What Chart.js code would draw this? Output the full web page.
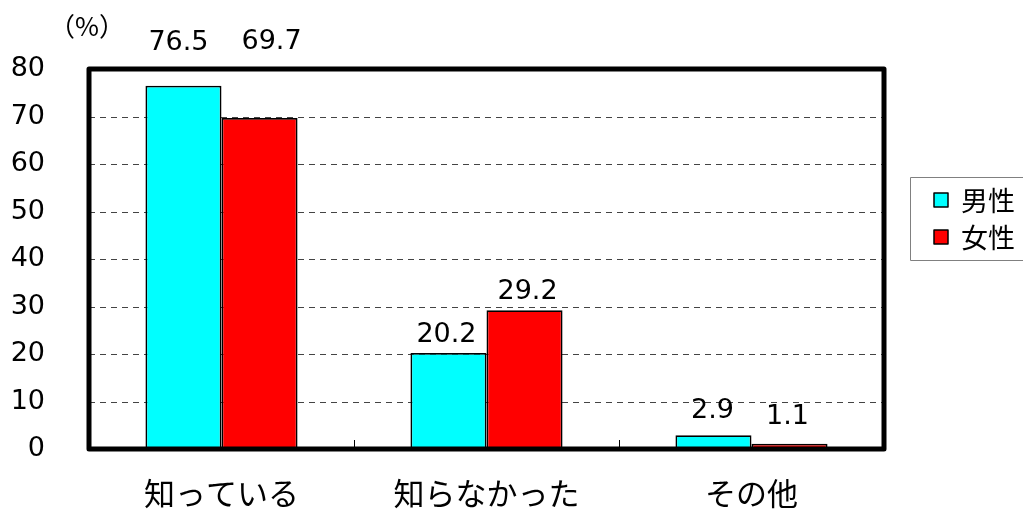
<!DOCTYPE html>
<html>
<head>
<meta charset="utf-8">
<script src="https://cdn.jsdelivr.net/npm/chart.js@4"></script>
<style>
  html, body { margin: 0; padding: 0; background: #fff; }
  #wrap { width: 1023px; height: 510px; }
</style>
</head>
<body>
<div id="wrap"><canvas id="myChart" width="1023" height="510"></canvas></div>
<script>
const categorias = ['知っている', '知らなかった', 'その他'];
const hombres = [76.5, 20.2, 2.9];
const mujeres = [69.7, 29.2, 1.1];
const ticksY = [0, 10, 20, 30, 40, 50, 60, 70, 80];

const numFont = '"DejaVu Sans", sans-serif';
const jpFont = '"Noto Sans CJK JP", sans-serif';

// marco grueso, rayas de la cuadricula, marcas del eje x, etiquetas y leyenda
const extras = {
  id: 'extras',
  beforeDatasetsDraw(chart) {
    const { ctx, chartArea: a, scales: { y } } = chart;
    ctx.save();
    ctx.strokeStyle = '#444';
    ctx.lineWidth = 1;
    ctx.setLineDash([6, 5]);
    ticksY.forEach(v => {
      if (v === 0 || v === 80) return;
      const py = Math.round(y.getPixelForValue(v)) + 0.5;
      ctx.beginPath();
      ctx.moveTo(a.left, py);
      ctx.lineTo(a.right, py);
      ctx.stroke();
    });
    ctx.setLineDash([]);
    ctx.strokeStyle = '#000';
    const paso = (a.right - a.left) / categorias.length;
    for (let i = 1; i < categorias.length; i++) {
      const px = Math.round(a.left + paso * i) + 0.5;
      ctx.beginPath();
      ctx.moveTo(px, a.bottom);
      ctx.lineTo(px, a.bottom - 9);
      ctx.stroke();
    }
    ctx.restore();
  },
  afterDatasetsDraw(chart) {
    const { ctx, chartArea: a } = chart;
    ctx.save();
    ctx.strokeStyle = '#000';
    ctx.lineWidth = 5;
    ctx.lineJoin = 'round';
    ctx.strokeRect(a.left, a.top, a.right - a.left, a.bottom - a.top);

    // etiquetas de valor
    const ajuste = [
      [[-5, -43], [-2, -18], [-1, -24]],
      [[12, -76], [3, -18], [-2, -27]]
    ];
    ctx.fillStyle = '#000';
    ctx.font = '27px ' + numFont;
    ctx.textAlign = 'center';
    ctx.textBaseline = 'middle';
    chart.data.datasets.forEach((ds, d) => {
      chart.getDatasetMeta(d).data.forEach((bar, i) => {
        const [dx, dy] = ajuste[d][i];
        ctx.fillText(ds.data[i].toFixed(1), bar.x + dx, bar.y + dy);
      });
    });

    // (%)
    ctx.font = '26px ' + jpFont;
    ctx.fillText('（%）', 87, 26);

    // leyenda
    ctx.strokeStyle = '#808080';
    ctx.lineWidth = 1;
    ctx.strokeRect(910.5, 177.5, 130, 83);
    chart.data.datasets.forEach((ds, d) => {
      const cy = 200 + d * 37;
      ctx.fillStyle = ds.backgroundColor;
      ctx.fillRect(934, cy - 7, 14, 14);
      ctx.strokeStyle = '#000';
      ctx.lineWidth = 1.5;
      ctx.strokeRect(934, cy - 7, 14, 14);
      ctx.fillStyle = '#000';
      ctx.textAlign = 'left';
      ctx.font = '27px ' + jpFont;
      ctx.fillText(ds.label, 961, cy + 1);
    });
    ctx.restore();
  }
};

const data = {
  labels: categorias,
  datasets: [{
    label: '男性',
    data: hombres,
    backgroundColor: '#00FFFF',
    borderColor: '#000',
    borderWidth: 1.8,
    categoryPercentage: 0.574,
    barPercentage: 1
  }, {
    label: '女性',
    data: mujeres,
    backgroundColor: '#FF0000',
    borderColor: '#000',
    borderWidth: 1.8,
    categoryPercentage: 0.574,
    barPercentage: 1
  }]
};

const myChart = new Chart('myChart', {
  type: 'bar',
  data: data,
  plugins: [extras],
  options: {
    responsive: false,
    animation: false,
    layout: { padding: { top: 69, right: 139, left: 0, bottom: 0 } },
    plugins: {
      legend: { display: false },
      tooltip: { enabled: false }
    },
    scales: {
      x: {
        grid: { display: false, drawTicks: false },
        border: { display: false },
        ticks: {
          color: '#000',
          padding: 26,
          font: { family: jpFont, size: 31 }
        },
        afterFit(scale) { scale.height = 61; }
      },
      y: {
        min: 0,
        max: 80,
        grid: { display: false, drawTicks: false },
        border: { display: false },
        ticks: {
          stepSize: 10,
          color: '#000',
          padding: 44,
          font: { family: numFont, size: 27 },
          callback: v => ticksY.includes(v) ? String(v) : ''
        },
        afterFit(scale) { scale.width = 89; }
      }
    }
  }
});
</script>
</body>
</html>
